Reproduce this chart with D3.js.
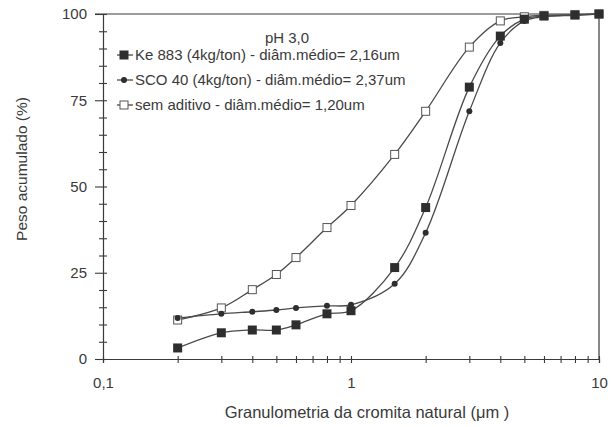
<!DOCTYPE html>
<html>
<head>
<meta charset="utf-8">
<script src="https://cdn.jsdelivr.net/npm/d3@7"></script>
<style>
  body { margin: 0; background: #fff; }
  svg { font-family: "Liberation Sans", Arial, sans-serif; }
</style>
</head>
<body>
<div id="chart"></div>
<script>
// --- Data ---
const diam = [0.2, 0.3, 0.4, 0.5, 0.6, 0.8, 1, 1.5, 2, 3, 4, 5, 6, 8, 10];
const ke883 = [3.2, 7.6, 8.4, 8.4, 9.9, 13.1, 14.0, 26.5, 43.9, 78.8, 93.6, 98.5, 99.4, 99.7, 100];
const sco40 = [11.9, 13.1, 13.7, 14.2, 14.8, 15.4, 15.7, 21.8, 36.6, 71.8, 91.6, 98.0, 99.2, 99.6, 100];
const semAditivo = [11.3, 14.8, 20.1, 24.5, 29.4, 38.1, 44.5, 59.3, 71.8, 90.4, 98.0, 99.2, 99.6, 99.8, 100];
const legendTitle = "pH 3,0";
const seriesNames = [
  "Ke 883 (4kg/ton) - diâm.médio= 2,16um",
  "SCO 40 (4kg/ton) - diâm.médio= 2,37um",
  "sem aditivo - diâm.médio= 1,20um"
];
const yTickLabels = [0, 25, 50, 75, 100];
const xTickLabels = {0.1: "0,1", 1: "1", 10: "10"};

const width = 613, height = 427;
const ink = "#3a3a3a";

const svg = d3.select("#chart").append("svg")
  .attr("width", width).attr("height", height);

const x = d3.scaleLog().domain([0.1, 10]).range([103, 599]);
const y = d3.scaleLinear().domain([0, 100]).range([359, 14]);

// --- Frame (top and right) ---
svg.append("line").attr("x1", x(0.1) - 8).attr("x2", x(10)).attr("y1", y(100)).attr("y2", y(100))
  .attr("stroke", ink).attr("stroke-width", 1.2);
svg.append("line").attr("x1", x(10)).attr("x2", x(10)).attr("y1", y(100)).attr("y2", y(0))
  .attr("stroke", ink).attr("stroke-width", 1.2);

// --- Axes ---
const xTicks = [];
[0.1, 1].forEach(d => { for (let k = 1; k < 10; k++) xTicks.push(+(d * k).toFixed(2)); });
xTicks.push(10);

const xAxisG = svg.append("g").attr("transform", `translate(0,${y(0)})`)
  .call(d3.axisBottom(x).tickValues(xTicks).tickSize(4).tickFormat(d => xTickLabels[d] || ""));
xAxisG.select(".domain").attr("stroke", ink).attr("stroke-width", 1.2);
xAxisG.selectAll(".tick line").attr("y1", -3).attr("y2", 4).attr("stroke", ink).attr("stroke-width", 1.1);
xAxisG.selectAll(".tick text").attr("y", 18).attr("fill", ink)
  .style("font-size", "15px").style("font-family", "Liberation Sans, Arial, sans-serif");

const yAxisG = svg.append("g").attr("transform", `translate(${x(0.1)},0)`)
  .call(d3.axisLeft(y).tickValues(d3.range(0, 101, 5)).tickSize(4)
    .tickFormat(d => yTickLabels.includes(d) ? d : ""));
yAxisG.select(".domain").attr("stroke", ink).attr("stroke-width", 1.2);
yAxisG.selectAll(".tick line").attr("x1", -4).attr("x2", 4).attr("stroke", ink).attr("stroke-width", 1.1);
yAxisG.selectAll(".tick")
  .filter(d => yTickLabels.includes(d))
  .select("line").attr("x1", -8);
yAxisG.selectAll(".tick text").attr("x", -16).attr("fill", ink)
  .style("font-size", "15px").style("font-family", "Liberation Sans, Arial, sans-serif");

// --- Axis titles ---
svg.append("text").attr("x", 367).attr("y", 418).attr("text-anchor", "middle")
  .attr("fill", ink).style("font-size", "16.5px")
  .text("Granulometria da cromita natural (μm )");
svg.append("text").attr("transform", "translate(27,169) rotate(-90)").attr("text-anchor", "middle")
  .attr("fill", ink).style("font-size", "15.5px")
  .text("Peso acumulado (%)");

// --- Series ---
const series = [
  {name: seriesNames[0], values: ke883, marker: "fsquare"},
  {name: seriesNames[1], values: sco40, marker: "dot"},
  {name: seriesNames[2], values: semAditivo, marker: "osquare"}
];

const line = d3.line()
  .x(d => x(d[0]))
  .y(d => y(d[1]))
  .curve(d3.curveCatmullRom.alpha(0.5));

function drawMarker(g, type, cx, cy) {
  if (type === "fsquare") {
    g.append("rect").attr("x", cx - 4.5).attr("y", cy - 4.5).attr("width", 9).attr("height", 9)
      .attr("fill", "#2e2e2e");
  } else if (type === "dot") {
    g.append("circle").attr("cx", cx).attr("cy", cy).attr("r", 3).attr("fill", "#2e2e2e");
  } else {
    g.append("rect").attr("x", cx - 4).attr("y", cy - 4).attr("width", 8).attr("height", 8)
      .attr("fill", "#fff").attr("stroke", "#555").attr("stroke-width", 1);
  }
}

// draw open squares first so filled markers overlay them at the top
[series[2], series[1], series[0]].forEach(s => {
  const pts = diam.map((d, i) => [d, s.values[i]]);
  svg.append("path").datum(pts).attr("d", line)
    .attr("fill", "none").attr("stroke", "#4a4a4a").attr("stroke-width", 1.3);
});
[series[2], series[1], series[0]].forEach(s => {
  const g = svg.append("g");
  diam.forEach((d, i) => drawMarker(g, s.marker, x(d), y(s.values[i])));
});

// --- Legend ---
svg.append("text").attr("x", 287).attr("y", 43).attr("text-anchor", "middle")
  .attr("fill", ink).style("font-size", "15px").text(legendTitle);
const legendRows = [55, 80, 105];
series.forEach((s, i) => {
  const g = svg.append("g");
  const ly = legendRows[i];
  g.append("line").attr("x1", 117).attr("x2", 133).attr("y1", ly).attr("y2", ly)
    .attr("stroke", "#4a4a4a").attr("stroke-width", 1.3);
  drawMarker(g, s.marker, 124, ly);
  g.append("text").attr("x", 135).attr("y", ly + 5).attr("fill", ink)
    .style("font-size", "15px").text(s.name);
});
</script>
</body>
</html>
